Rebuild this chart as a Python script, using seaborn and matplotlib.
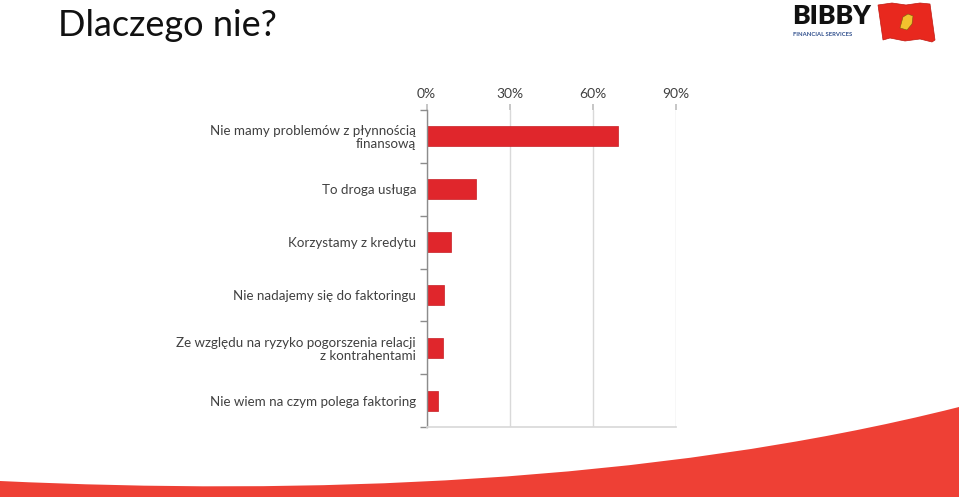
import matplotlib
matplotlib.use("Agg")
import matplotlib.pyplot as plt
import seaborn as sns
import pandas as pd
import numpy as np
from matplotlib.patches import Polygon, PathPatch
from matplotlib.path import Path
from matplotlib.ticker import FixedLocator

categories = [
    "Nie mamy problemów z płynnością\nfinansową",
    "To droga usługa",
    "Korzystamy z kredytu",
    "Nie nadajemy się do faktoringu",
    "Ze względu na ryzyko pogorszenia relacji\nz kontrahentami",
    "Nie wiem na czym polega faktoring",
]
values = [69, 18, 9, 6.3, 6, 4]
x_ticks = [0, 30, 60, 90]
x_tick_labels = ["0%", "30%", "60%", "90%"]
title = "Dlaczego nie?"

sns.set_theme(style="white")
plt.rcParams['font.family'] = ['Lato', 'DejaVu Sans']

df = pd.DataFrame({"kat": categories, "val": values})

W, H = 959, 497
fig = plt.figure(figsize=(9.59, 4.97), dpi=100)
fig.patch.set_facecolor("white")


def fp(x, y):
    return (x / W, 1 - y / H)


# bottom swoosh decoration (smooth curve)
verts = [fp(0, 481), fp(300, 495), fp(650, 485), fp(959, 407),
         fp(959, 497), fp(0, 497), fp(0, 481)]
codes = [Path.MOVETO, Path.CURVE4, Path.CURVE4, Path.CURVE4,
         Path.LINETO, Path.LINETO, Path.CLOSEPOLY]
fig.patches.append(PathPatch(Path(verts, codes), transform=fig.transFigure,
                             facecolor="#EE4035", edgecolor="none", zorder=0))

ax = fig.add_axes([426.5 / W, 1 - 427 / H, (676 - 426.5) / W, (427 - 110) / H])
sns.barplot(data=df, x="val", y="kat", orient="h", color="#E0262C",
            width=0.38, saturation=1, ax=ax, edgecolor="#C81E24", linewidth=0.5)

ax.set_xlim(0, 90)
ax.set_ylim(len(categories) - 0.5, -0.5)
ax.set_xticks(x_ticks)
ax.set_xticklabels(x_tick_labels)
ax.xaxis.tick_top()
ax.set_xlabel("")
ax.set_ylabel("")
ax.grid(axis="x", color="#D9D9D9", linewidth=1)
ax.set_axisbelow(True)
for s in ["top", "right"]:
    ax.spines[s].set_visible(False)
ax.spines["bottom"].set_color("#D9D9D9")
ax.spines["left"].set_color("#8C8C8C")
ax.spines["left"].set_linewidth(1)

ax.tick_params(axis="x", which="major", top=True, length=4, color="#BFBFBF",
               labelsize=10, labelcolor="#404040", pad=3)
ax.tick_params(axis="y", which="major", length=0, labelsize=9.6,
               labelcolor="#404040", pad=7.5)
ax.yaxis.set_minor_locator(FixedLocator(np.arange(-0.5, len(categories) + 0.5, 1)))
ax.tick_params(axis="y", which="minor", left=True, length=5, color="#8C8C8C", width=1)
for lbl in ax.get_yticklabels():
    lbl.set_linespacing(1.1)

fig.text(58 / W, 1 - 25 / H, title, fontsize=26, color="#111111",
         va="center", ha="left")

# logo
fig.text(792 / W, 1 - 16 / H, "BIBBY", fontsize=19, fontweight="heavy",
         color="#111111", va="center", ha="left")
fig.text(793 / W, 1 - 34 / H, "FINANCIAL SERVICES", fontsize=4.2,
         fontweight="bold", color="#2F4E8C", va="center", ha="left")
flag = [fp(878, 5), fp(892, 3), fp(906, 5), fp(920, 3), fp(930, 4),
        fp(935, 40), fp(932, 42), fp(920, 39), fp(905, 41), fp(890, 38), fp(883, 40)]
fig.patches.append(Polygon(flag, closed=True, transform=fig.transFigure,
                           facecolor="#E8281E", edgecolor="#C01810", linewidth=0.5))
hand = [fp(900, 28), fp(903, 17), fp(908, 14), fp(913, 16), fp(912, 24), fp(907, 30)]
fig.patches.append(Polygon(hand, closed=True, transform=fig.transFigure,
                           facecolor="#F2C12E", edgecolor="#7A5A10", linewidth=0.4))

fig.savefig("out.png", dpi=100, facecolor="white")
